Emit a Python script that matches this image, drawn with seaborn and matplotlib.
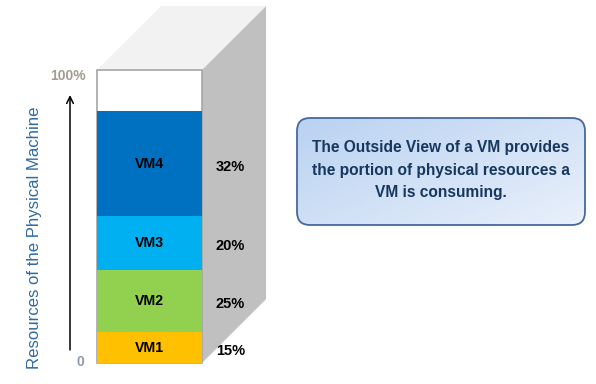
import matplotlib
matplotlib.use('Agg')

import numpy as np
import pandas as pd
import matplotlib.pyplot as plt
import seaborn as sns
from matplotlib import font_manager
from matplotlib.patches import Polygon, Rectangle, FancyBboxPatch

# data (segment heights in % of the front face)
vm_names = ["VM1", "VM2", "VM3", "VM4"]
vm_heights = [10.5, 21.4, 18.2, 35.8]
vm_labels = ["15%", "25%", "20%", "32%"]
vm_colors = ["#ffc000", "#92d050", "#00b0f0", "#0070c0"]
y_ticks = [0, 100]
y_tick_labels = ["0", "100%"]
y_title = "Resources of the Physical Machine"
note = "The Outside View of a VM provides\nthe portion of physical resources a\nVM is consuming."

sns.set_theme(style="white")
plt.rcParams['font.family'] = ['Liberation Sans', 'DejaVu Sans']

W, H = 596, 384
fig = plt.figure(figsize=(W / 100, H / 100), dpi=100)

# axes covering the front face of the "machine"
ax = fig.add_axes([97 / W, 21 / H, 105 / W, 293 / H])

df = pd.DataFrame({"vm": vm_names, "h": vm_heights, "color": vm_colors})
df["top"] = df["h"].cumsum()
df["mid"] = df["top"] - df["h"] / 2

# white front face with grey outline
ax.add_patch(Rectangle((-0.5, 0), 1, 100, facecolor="white", edgecolor="#a6a6a6",
                       lw=1.2, zorder=0.5, clip_on=False))

# stacked bars: draw cumulative tops from the largest down
for _, row in df.iloc[::-1].iterrows():
    sns.barplot(x=["pm"], y=[row["top"]], color=row["color"], saturation=1,
                width=1, linewidth=0, ax=ax, zorder=2)

# 3D box decoration (top and side faces)
dx, dy = 0.61, 21.8
ax.add_patch(Polygon([(-0.5, 100), (-0.5 + dx, 100 + dy), (0.5 + dx, 100 + dy), (0.5, 100)],
                     closed=True, facecolor="#f2f2f2", edgecolor="none", zorder=0.3, clip_on=False))
ax.add_patch(Polygon([(0.5, 0), (0.5, 100), (0.5 + dx, 100 + dy), (0.5 + dx, dy)],
                     closed=True, facecolor="#c0c0c0", edgecolor="none", zorder=0.3, clip_on=False))

for _, row in df.iterrows():
    ax.text(0, row["mid"], row["vm"], ha="center", va="center", fontsize=10.2,
            fontweight="bold", color="black", zorder=3)
for lab, mid in zip(vm_labels, df["mid"]):
    ax.text(0.77, mid - 1, lab, ha="center", va="center", fontsize=10.5,
            fontweight="bold", color="black", zorder=3, clip_on=False)

ax.set_xlim(-0.5, 0.5)
ax.set_ylim(0, 100)
ax.axis("off")

# axis arrow and its two labels
ax.annotate("", xy=(-0.757, 92.4), xytext=(-0.757, 3.5),
            arrowprops=dict(arrowstyle="->", color="black", lw=1.1), annotation_clip=False)
ax.text(-0.66, y_ticks[0] + 0.5, y_tick_labels[0], ha="center", va="center", fontsize=10,
        fontweight="bold", color="#8d9aab", clip_on=False)
ax.text(-0.78, y_ticks[1] - 2.2, y_tick_labels[1], ha="center", va="center", fontsize=10,
        fontweight="bold", color="#a39c90", clip_on=False)
fig.text(35 / W, 1 - 238 / H, y_title, rotation=90, ha="center", va="center",
         fontsize=12.1, color="#2f6aa3")

# rounded note box with gradient fill
bx0, bx1, by0, by1 = 297, 585, 118, 225
bw, bh = bx1 - bx0, by1 - by0
pad = 4
ax2 = fig.add_axes([(bx0 - pad) / W, 1 - (by1 + pad) / H, (bw + 2 * pad) / W, (bh + 2 * pad) / H])
ax2.set_xlim(-pad, bw + pad)
ax2.set_ylim(bh + pad, -pad)
ax2.axis("off")
gx, gy = np.meshgrid(np.linspace(0, 1, 200), np.linspace(0, 1, 100))
grad = (gx * 0.55 + gy * 0.45)
cmap = matplotlib.colors.LinearSegmentedColormap.from_list("box", ["#b9d2f1", "#e9f0fb"])
img = ax2.imshow(grad, cmap=cmap, extent=(0, bw, bh, 0), aspect="auto", zorder=1)
box = FancyBboxPatch((0, 0), bw, bh, boxstyle="round,pad=0,rounding_size=13",
                     facecolor="none", edgecolor="#46699a", lw=1.3, zorder=2)
ax2.add_patch(box)
img.set_clip_path(box)

names = {f.name for f in font_manager.fontManager.ttflist}
if "Liberation Sans Narrow" in names:
    note_font, note_size = ["Liberation Sans Narrow", "DejaVu Sans"], 12.5
else:
    note_font, note_size = ["Liberation Sans", "DejaVu Sans"], 11.2
ax2.text(bw / 2, bh / 2 - 1.5, note, ha="center", va="center", fontsize=note_size,
         fontweight="bold", color="#17375e", family=note_font, linespacing=1.6, zorder=3)

fig.savefig("out.png", dpi=100)
